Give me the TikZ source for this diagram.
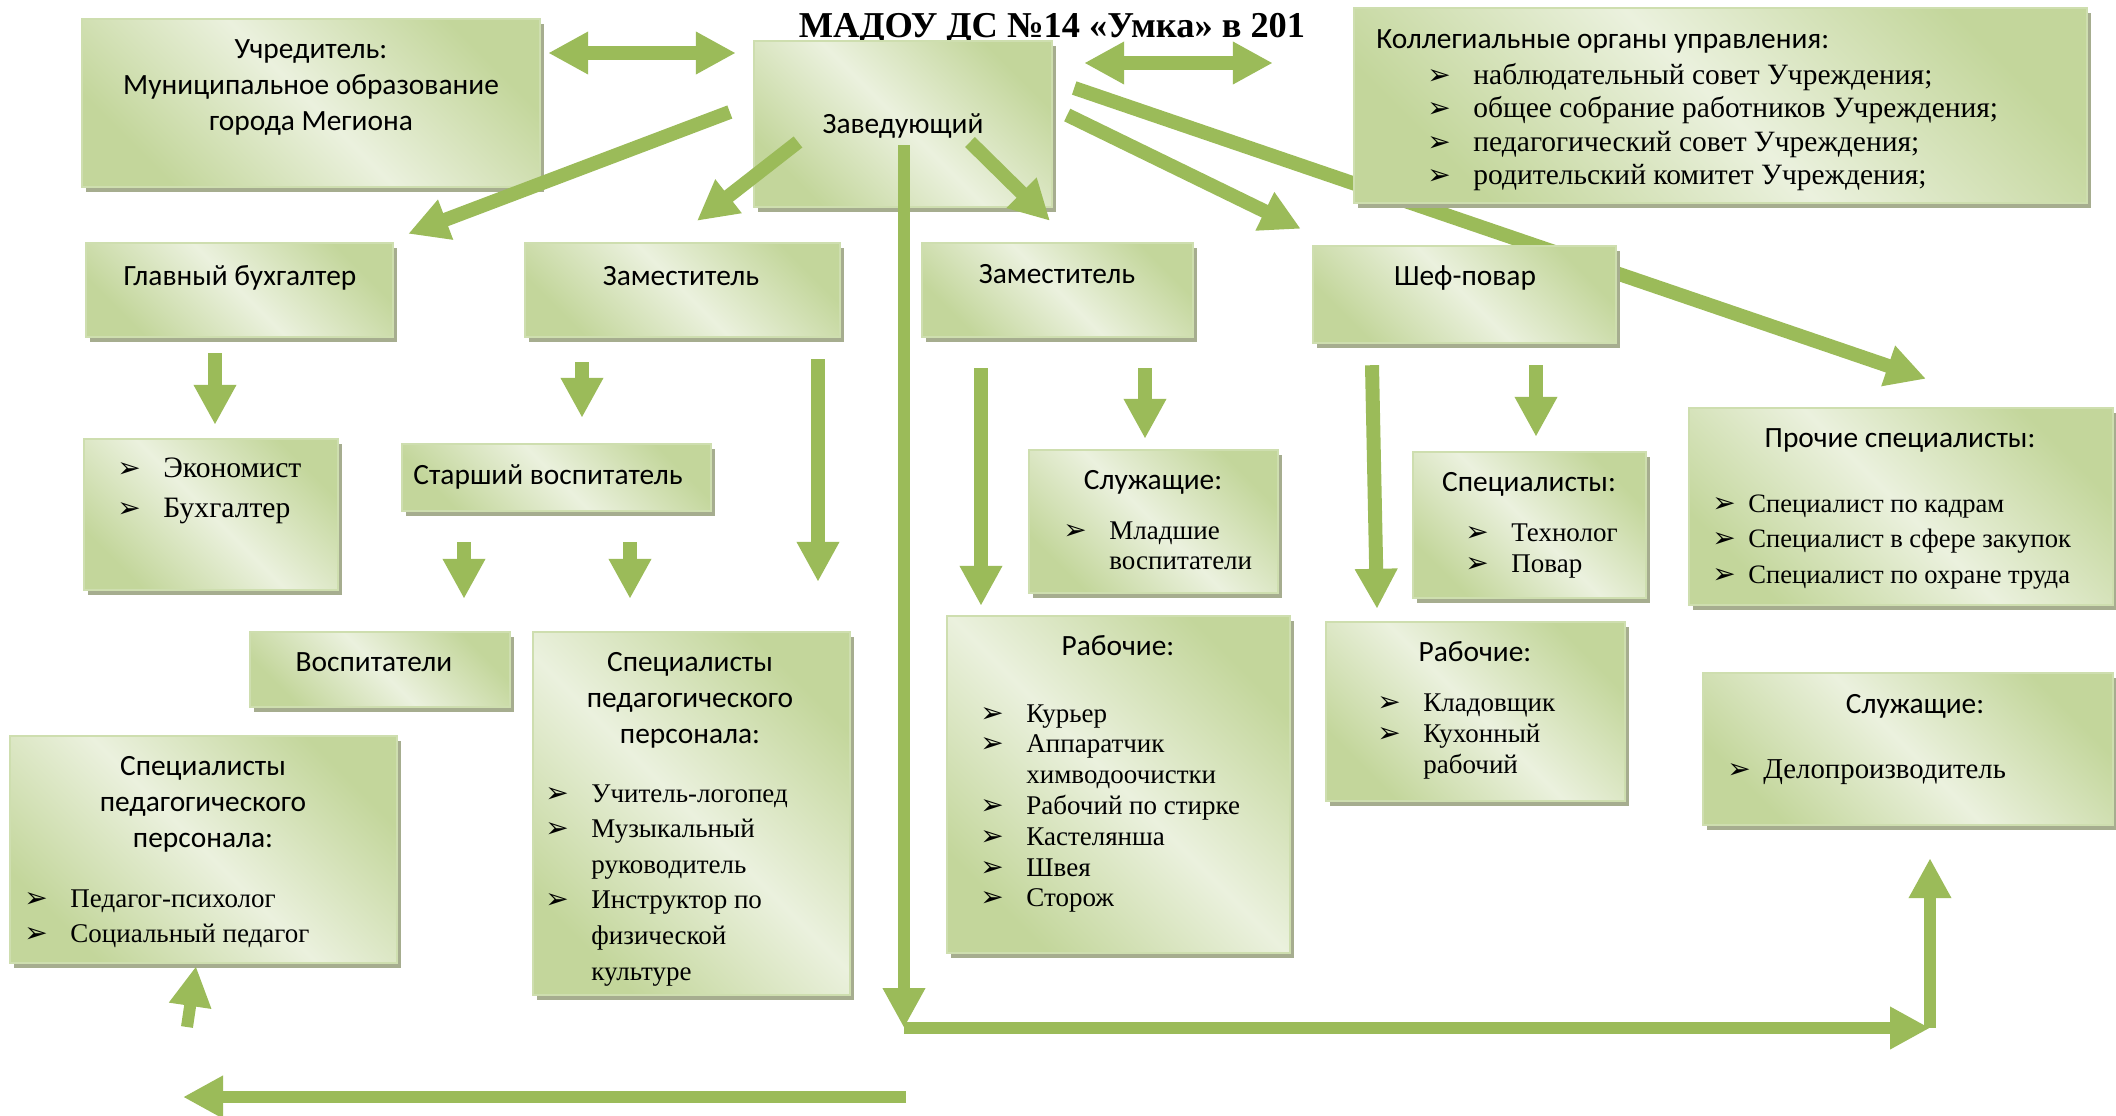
\documentclass[tikz,border=0pt]{standalone}
\usepackage{fontspec}
\usepackage{tikz}
\usetikzlibrary{arrows.meta,shadows}
\newfontfamily\calib{Carlito}
\newfontfamily\tnr{Liberation Serif}
\newfontfamily\djv{DejaVu Sans}
\definecolor{arrgreen}{HTML}{9BBB59}
\definecolor{boxlight}{HTML}{EBF1DE}
\definecolor{boxdark}{HTML}{C3D69B}
\definecolor{boxedge}{HTML}{CEDEAF}
\definecolor{boxshadow}{HTML}{A6AD8F}
\newcommand{\bul}[1][23pt]{\makebox[#1][l]{\djv\fontsize{14pt}{14pt}\selectfont ➢}}
\newcommand{\gap}[1][23pt]{\hspace*{#1}}
\newcommand{\rows}[4]{\fontsize{#1}{#2}\selectfont\begin{tabular}[t]{@{}#3@{}}#4\end{tabular}}
\pgfdeclarelayer{back}
\pgfsetlayers{back,main}
\tikzset{
	box/.style={draw=boxedge, line width=1.2pt, top color=boxdark, bottom color=boxdark, middle color=boxlight, shading angle=-45, inner sep=0pt, drop shadow={fill=boxshadow, opacity=1, shadow xshift=2pt, shadow yshift=-2.5pt}},
	ttl/.style={font=\calib\fontsize{14.7pt}{18pt}\selectfont, inner sep=0pt, anchor=base},
	lst/.style={font=\tnr, inner sep=0pt, anchor=base west},
	arr/.style={draw=arrgreen, line width=7pt, -{Triangle[width=20pt,length=20pt]}},
	dblarr/.style={arr, {Triangle[width=20pt,length=20pt]}-{Triangle[width=20pt,length=20pt]}},
	thinarr/.style={draw=arrgreen, line width=6pt, -{Triangle[width=20pt,length=20pt]}}
}

\begin{document}
\begin{tikzpicture}[x=0.5pt,y=-0.5pt]
			%%%%% START %%%%%
			\useasboundingbox (0,0) rectangle (2116,1115);
			
			\node[font=\tnr\bfseries\fontsize{18.2pt}{20pt}\selectfont, inner sep=0pt, anchor=base] (title) at (1052,37) {МАДОУ ДС №14 «Умка» в 201};
			
			%%%%% boxes %%%%%
			\node[box, minimum width=229pt, minimum height=84pt] (uchr) at (311,103) {};
			\node[box, minimum width=149pt, minimum height=83pt] (zav) at (903,124) {};
			\node[box, minimum width=366.5pt, minimum height=97.5pt] (koll) at (1720.5,105.5) {};
			
			\node[box, minimum width=153.5pt, minimum height=47pt] (gbuh) at (239.5,290) {};
			\node[box, minimum width=157.5pt, minimum height=47pt] (zam1) at (682.5,290) {};
			\node[box, minimum width=135.5pt, minimum height=47pt] (zam2) at (1057.5,290) {};
			\node[box, minimum width=151.5pt, minimum height=48.5pt] (chef) at (1464.5,294.5) {};
			
			\node[box, minimum width=127pt, minimum height=75.5pt] (econ) at (211,514.5) {};
			\node[box, minimum width=154.5pt, minimum height=33.5pt] (starsh) at (556.5,477.5) {};
			\node[box, minimum width=124.5pt, minimum height=71.5pt] (sluzh1) at (1153.5,521.5) {};
			\node[box, minimum width=116.5pt, minimum height=73pt] (specchef) at (1529.5,525) {};
			\node[box, minimum width=212pt, minimum height=98.5pt] (proch) at (1901,506.5) {};
			
			\node[box, minimum width=130pt, minimum height=37.5pt] (vosp) at (380,669.5) {};
			\node[box, minimum width=158.5pt, minimum height=181.5pt] (specmid) at (691.5,813.5) {};
			\node[box, minimum width=193.5pt, minimum height=113.5pt] (specleft) at (203.5,849.5) {};
			\node[box, minimum width=171.5pt, minimum height=168.5pt] (rab1) at (1118.5,784.5) {};
			\node[box, minimum width=149.5pt, minimum height=89.5pt] (rab2) at (1475.5,711.5) {};
			\node[box, minimum width=205pt, minimum height=76pt] (sluzh2) at (1908,749) {};
			
			%%%%% texts %%%%%
			\node[ttl] (uchrT) at (311,58) {\rows{14.7pt}{18pt}{c}{Учредитель:\\Муниципальное образование\\города Мегиона}};
			\node[ttl] (zavT) at (903,133) {Заведующий};
			\node[ttl, anchor=base west] (kollT) at (1376,48) {Коллегиальные органы управления:};
			\node[lst] (kollL) at (1427,84) {\rows{14.75pt}{16.75pt}{l}{\bul наблюдательный совет Учреждения;\\\bul общее собрание работников Учреждения;\\\bul педагогический совет Учреждения;\\\bul родительский комитет Учреждения;}};
			
			\node[ttl] (gbuhT) at (240,285) {Главный бухгалтер};
			\node[ttl] (zam1T) at (681,285) {Заместитель};
			\node[ttl] (zam2T) at (1057,283) {Заместитель};
			\node[ttl] (chefT) at (1465,285) {Шеф-повар};
			
			\node[lst] (econL) at (117,477) {\rows{14.8pt}{20pt}{l}{\bul Экономист\\\bul Бухгалтер}};
			\node[ttl] (starshT) at (548,484) {Старший воспитатель};
			\node[ttl] (sluzh1T) at (1153,489) {Служащие:};
			\node[lst] (sluzh1L) at (1063,539) {\rows{13.5pt}{15pt}{l}{\bul Младшие\\\gap воспитатели}};
			\node[ttl] (specchefT) at (1529,491) {Специалисты:};
			\node[lst] (specchefL) at (1465,541) {\rows{13.5pt}{15.5pt}{l}{\bul Технолог\\\bul Повар}};
			\node[ttl] (prochT) at (1900,447) {Прочие специалисты:};
			\node[lst] (prochL) at (1712,512) {\rows{13.3pt}{17.75pt}{l}{\bul[18pt]Специалист по кадрам\\\bul[18pt]Специалист в сфере закупок\\\bul[18pt]Специалист по охране труда}};
			
			\node[ttl] (vospT) at (374,671) {Воспитатели};
			\node[ttl] (specmidT) at (690,671) {\rows{14.7pt}{18pt}{c}{Специалисты\\педагогического\\персонала:}};
			\node[lst] (specmidL) at (545,802) {\rows{13.5pt}{17.8pt}{l}{\bul Учитель-логопед\\\bul Музыкальный\\\gap руководитель\\\bul Инструктор по\\\gap физической\\\gap культуре}};
			\node[ttl] (specleftT) at (203,775) {\rows{14.7pt}{18pt}{c}{Специалисты\\педагогического\\персонала:}};
			\node[lst] (specleftL) at (24,907) {\rows{13.5pt}{17.5pt}{l}{\bul Педагог-психолог\\\bul Социальный педагог}};
			\node[ttl] (rab1T) at (1118,655) {Рабочие:};
			\node[lst] (rab1L) at (980,722) {\rows{13.5pt}{15.4pt}{l}{\bul Курьер\\\bul Аппаратчик\\\gap химводоочистки\\\bul Рабочий по стирке\\\bul Кастелянша\\\bul Швея\\\bul Сторож}};
			\node[ttl] (rab2T) at (1475,661) {Рабочие:};
			\node[lst] (rab2L) at (1377,711) {\rows{13.5pt}{15.5pt}{l}{\bul Кладовщик\\\bul Кухонный\\\gap рабочий}};
			\node[ttl] (sluzh2T) at (1915,713) {Служащие:};
			\node[lst] (sluzh2L) at (1727,778) {\rows{14.4pt}{15pt}{l}{\bul[18pt]Делопроизводитель}};
			
			%%%%% arrows %%%%%
			\begin{pgfonlayer}{back}
				\draw[arr] ([shift={(21,-36)}]zav.east) -- ([shift={(25,-28)}]proch.north);
			\end{pgfonlayer}
			
			\draw[dblarr] ([shift={(7,-50)}]uchr.east) -- ([shift={(-17,-71)}]zav.west);
			\draw[dblarr] ([shift={(31,-61)}]zav.east) -- ([shift={(-80,-42.5)}]koll.west);
			
			\draw[arr] ([shift={(-23,-12)}]zav.west) -- ([shift={(14,-8)}]gbuh.north east);
			\draw[arr] ([shift={(-105,18)}]zav.center) -- ([shift={(14.5,-21)}]zam1.north);
			\draw[arr] ([shift={(67,18)}]zav.center) -- ([shift={(-7.5,-21)}]zam2.north);
			\draw[arr] ([shift={(14,-9)}]zav.east) -- ([shift={(-11,-16)}]chef.north west);
			
			\draw[arr] ([shift={(-24.5,15)}]gbuh.south) -- ([shift={(4,-13)}]econ.north);
			\draw[arr] ([shift={(-100.5,24)}]zam1.south) -- ([shift={(25.5,-25)}]starsh.north);
			\draw[arr] ([shift={(135.5,21)}]zam1.south) -- ([shift={(126.5,-49)}]specmid.north);
			\draw[arr] ([shift={(-92.5,30)}]starsh.south) -- ([shift={(84,-32)}]vosp.north);
			\draw[arr] ([shift={(73.5,30)}]starsh.south) -- ([shift={(-61.5,-32)}]specmid.north);
			\draw[arr] ([shift={(-76.5,30)}]zam2.south) -- ([shift={(-137.5,-9)}]rab1.north);
			\draw[arr] ([shift={(87.5,30)}]zam2.south) -- ([shift={(-8.5,-10)}]sluzh1.north);
			\draw[arr] ([shift={(-92.5,21)}]chef.south) -- ([shift={(-98.5,-12)}]rab2.north);
			\draw[arr] ([shift={(71.5,21)}]chef.south) -- ([shift={(6.5,-14)}]specchef.north);
			
			\coordinate (turnL) at (904,1028);
			\coordinate (turnR) at (1930,1028);
			\coordinate (lowR) at (906,1097);
			\coordinate (lowL) at (183,1097);
			\coordinate (upfoot) at (187,1027);
			
			\draw[thinarr] ([shift={(1,21)}]zav.center) -- (turnL);
			\draw[thinarr] (turnL) -- (turnR);
			\draw[thinarr] (turnR) -- ([shift={(22,32)}]sluzh2.south);
			\draw[thinarr] (lowR) -- (lowL);
			\draw[thinarr] (upfoot) -- ([shift={(-7.5,2)}]specleft.south);
			%%%%% END %%%%%
\end{tikzpicture}
\end{document}
